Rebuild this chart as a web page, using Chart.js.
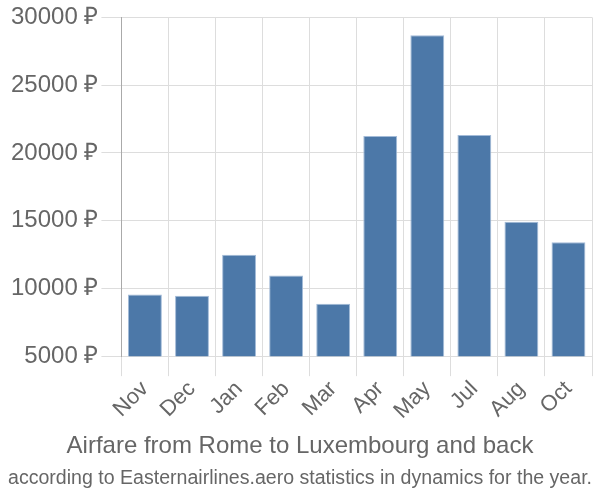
<!DOCTYPE html>
<html>
<head>
<meta charset="utf-8">
<script src="https://cdn.jsdelivr.net/npm/chart.js@4"></script>
<style>
  html, body { margin: 0; padding: 0; background: #fff; }
  #wrap { width: 600px; height: 500px; }
</style>
</head>
<body>
<div id="wrap"><canvas id="chart"></canvas></div>
<script>
const months = ['Nov', 'Dec', 'Jan', 'Feb', 'Mar', 'Apr', 'May', 'Jul', 'Aug', 'Oct'];
const prices = [9550, 9450, 12480, 10960, 8860, 21250, 28680, 21320, 14920, 13410];
const yTicks = [5000, 10000, 15000, 20000, 25000, 30000];

const ctx = document.getElementById('chart').getContext('2d');
new Chart(ctx, {
  type: 'bar',
  data: {
    labels: months,
    datasets: [{
      label: 'Airfare',
      data: prices,
      backgroundColor: '#4c78a8',
      borderColor: '#a3bbd8',
      borderWidth: 1
    }]
  },
  options: {
    responsive: true,
    maintainAspectRatio: false,
    animation: false,
    layout: { padding: { left: 8, right: 8, top: 0, bottom: 0 } },
    plugins: {
      legend: { display: false },
      tooltip: { enabled: false },
      title: {
        display: true,
        position: 'bottom',
        weight: 1400,
        text: 'Airfare from Rome to Luxembourg and back',
        color: '#666',
        font: { family: 'Liberation Sans, Arial, sans-serif', size: 24, weight: 'normal' },
        padding: { top: 8, bottom: 5 }
      },
      subtitle: {
        display: true,
        position: 'bottom',
        weight: 1500,
        text: 'according to Easternairlines.aero statistics in dynamics for the year.',
        color: '#666',
        font: { family: 'Liberation Sans, Arial, sans-serif', size: 20 },
        padding: { top: 0, bottom: 10 }
      }
    },
    scales: {
      x: {
        grid: { color: '#ddd', tickLength: 20, offset: true },
        border: { color: '#ddd' },
        ticks: {
          color: '#666',
          font: { family: 'Liberation Sans, Arial, sans-serif', size: 22 },
          maxRotation: 45,
          minRotation: 45,
          padding: 0
        }
      },
      y: {
        min: 5000,
        max: 30000,
        afterBuildTicks: (axis) => { axis.ticks = yTicks.map(v => ({ value: v })); },
        grid: { color: '#ddd', tickLength: 20 },
        border: { color: '#aaa' },
        ticks: {
          color: '#666',
          font: { family: 'Liberation Sans, Arial, sans-serif', size: 24 },
          padding: 3,
          callback: (v) => v + ' ₽'
        }
      }
    }
  }
});
</script>
</body>
</html>
